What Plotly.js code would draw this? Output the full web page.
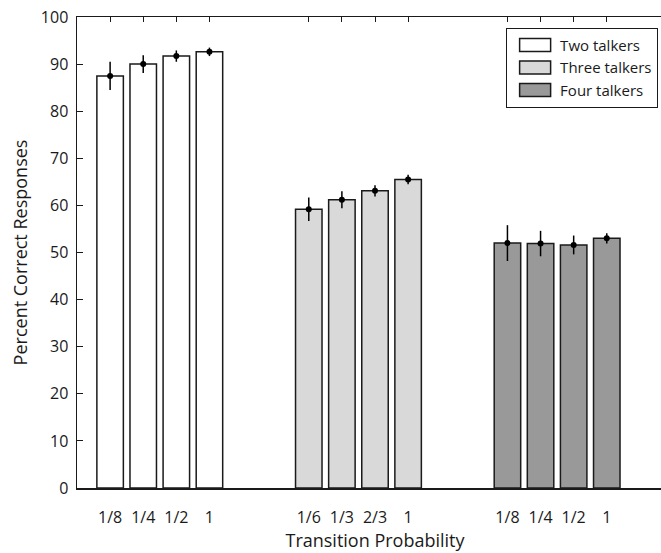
<!DOCTYPE html>
<html>
<head>
<meta charset="utf-8">
<script src="https://cdn.plot.ly/plotly-3.0.1.min.js"></script>
<style>
  html, body { margin: 0; padding: 0; overflow: hidden; background: #fff; }
  #chart { width: 700px; height: 553px; }
</style>
</head>
<body>
<div id="chart"></div>
<script>
// ---- data ----
const groupNames = ["Two talkers", "Three talkers", "Four talkers"];
const probLabelsTwo = ["1/8", "1/4", "1/2", "1"];
const probLabelsThree = ["1/6", "1/3", "2/3", "1"];
const probLabelsFour = ["1/8", "1/4", "1/2", "1"];
const valuesTwo = [87.5, 90.0, 91.7, 92.6];
const valuesThree = [59.2, 61.2, 63.1, 65.5];
const valuesFour = [52.0, 51.9, 51.6, 53.0];
const errorsTwo = [3.0, 1.9, 1.2, 0.9];
const errorsThree = [2.5, 1.8, 1.2, 1.0];
const errorsFour = [3.8, 2.7, 2.0, 1.1];
const yTickVals = [0, 10, 20, 30, 40, 50, 60, 70, 80, 90, 100];

// ---- styles ----
const fills = ["#ffffff", "#d9d9d9", "#999999"];
const FONT = "Open Sans, DejaVu Sans, sans-serif";

const groups = [
  {labels: probLabelsTwo, values: valuesTwo, errors: errorsTwo},
  {labels: probLabelsThree, values: valuesThree, errors: errorsThree},
  {labels: probLabelsFour, values: valuesFour, errors: errorsFour}
];

// category slots: each group has 4 bars followed by 2 empty slots
const GROUP_STRIDE = 6;
const traces = [];
const tickvals = [];
const ticktext = [];
groups.forEach((g, gi) => {
  const xs = g.labels.map((_, i) => gi * GROUP_STRIDE + i + 1);
  xs.forEach((x, i) => { tickvals.push(x); ticktext.push(g.labels[i]); });
  traces.push({
    type: "bar",
    name: groupNames[gi],
    x: xs,
    y: g.values,
    width: 0.8,
    marker: {color: fills[gi], line: {color: "#1a1a1a", width: 1.5}},
    hoverinfo: "skip"
  });
});
groups.forEach((g, gi) => {
  const xs = g.labels.map((_, i) => gi * GROUP_STRIDE + i + 1);
  traces.push({
    type: "scatter",
    mode: "markers",
    x: xs,
    y: g.values,
    showlegend: false,
    marker: {color: "#000", size: 6},
    error_y: {type: "data", array: g.errors, visible: true, color: "#000", thickness: 1.5, width: 0},
    hoverinfo: "skip"
  });
});

const layout = {
  width: 700,
  height: 553,
  margin: {l: 77, r: 27, t: 17, b: 65},
  paper_bgcolor: "#fff",
  plot_bgcolor: "#fff",
  font: {family: FONT, color: "#1a1a1a", size: 16},
  showlegend: true,
  bargap: 0,
  xaxis: {
    range: [0, 18],
    tickmode: "array",
    tickvals: tickvals,
    ticktext: ticktext,
    ticks: "inside",
    ticklen: 5,
    tickwidth: 1,
    tickcolor: "#1a1a1a",
    showline: true,
    linecolor: "#1a1a1a",
    linewidth: 1.5,
    mirror: "ticks",
    showgrid: false,
    zeroline: false,
    layer: "below traces",
    tickfont: {family: FONT, size: 16, color: "#1a1a1a"},
    ticklabelstandoff: 14,
    title: {text: "Transition Probability", font: {family: FONT, size: 18, color: "#1a1a1a"}, standoff: 0}
  },
  yaxis: {
    range: [0, 100],
    tickmode: "array",
    tickvals: yTickVals,
    ticks: "inside",
    ticklen: 6,
    tickwidth: 1,
    tickcolor: "#1a1a1a",
    showline: true,
    linecolor: "#1a1a1a",
    linewidth: 1.5,
    mirror: "ticks",
    showgrid: false,
    zeroline: false,
    layer: "below traces",
    tickfont: {family: FONT, size: 16, color: "#1a1a1a"},
    ticklabelstandoff: 4,
    title: {text: "Percent Correct Responses", font: {family: FONT, size: 18, color: "#1a1a1a"}, standoff: 8}
  },
  legend: {
    x: 0.72, y: 0.977, xanchor: "left", yanchor: "top",
    bgcolor: "#fff",
    bordercolor: "#1a1a1a",
    borderwidth: 1,
    font: {family: FONT, size: 15, color: "#1a1a1a"},
    tracegroupgap: 0,
    itemwidth: 43
  }
};

Plotly.newPlot("chart", traces, layout, {displayModeBar: false, staticPlot: true}).then(() => {
  // widen the legend swatches to the reference's wide rectangles
  document.querySelectorAll("#chart .legend .traces .legendpoints path").forEach(p => {
    p.setAttribute("d", "M17,6.5H-14V-6.5H17Z");
  });
});
</script>
</body>
</html>
